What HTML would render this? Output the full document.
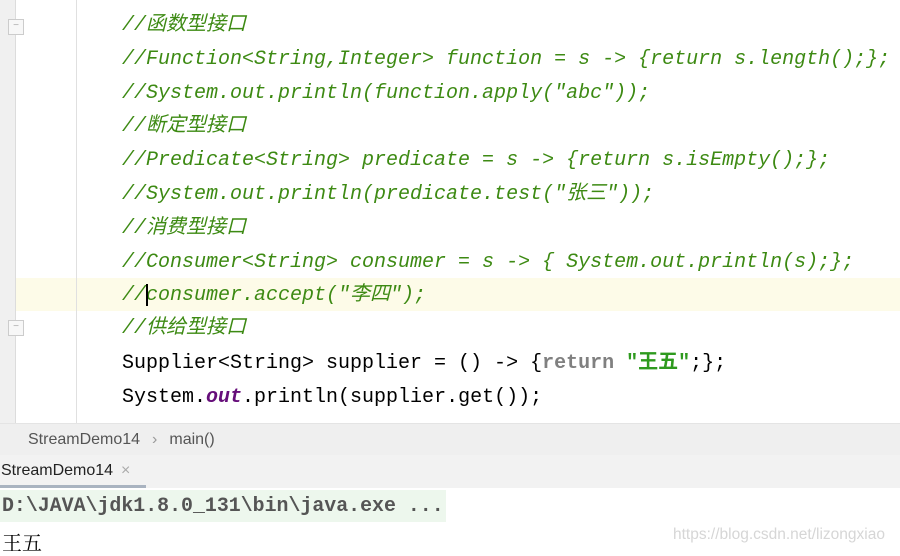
<!DOCTYPE html>
<html><head><meta charset="utf-8"><style>
*{margin:0;padding:0}
body{width:900px;height:555px;position:relative;overflow:hidden;background:#fff;font-family:"Liberation Mono","Noto Sans CJK SC",monospace}
.g1{position:absolute;left:0;top:0;width:15px;height:423px;background:#f0f0f0;border-right:1px solid #dcdcdc}
.g2{position:absolute;left:76px;top:0;width:1px;height:423px;background:#e0e0e0}
.hl{position:absolute;left:16px;top:278px;width:884px;height:33px;background:#fdfbe8}
.ln{position:absolute;left:122px;font-size:20px;line-height:34px;white-space:pre;color:#000}
.c{color:#3d8a13;font-style:italic}
.kw{color:#808080;font-weight:bold}
.s{color:#2e9a1e;font-weight:bold}
.o{color:#660e7a;font-style:italic;font-weight:bold}
.fold{position:absolute;left:8px;width:14px;height:14px;border:1px solid #ccc;background:#f7f7f7;font-size:10px;line-height:12px;text-align:center;color:#aaa;font-family:"Liberation Sans",sans-serif}
.bc{position:absolute;left:0;top:423px;width:900px;height:31px;background:#efefef;border-top:1px solid #e4e4e4;border-bottom:1px solid #d4d4d4;font-family:"Liberation Sans",sans-serif;font-size:16px;color:#555;line-height:31px}
.tb{position:absolute;left:0;top:455px;width:900px;height:33px;background:#f2f2f2;font-family:"Liberation Sans",sans-serif;font-size:16px;color:#222;line-height:31px}
.und{position:absolute;left:0;top:485px;width:146px;height:3px;background:#a9b3c0}
.out{position:absolute;left:0;top:490px;width:446px;height:32px;background:#edf7ed;font-size:19.9px;line-height:32px;color:#555;font-weight:bold;padding-left:2px;box-sizing:border-box}
.wu{position:absolute;left:2px;top:527px;font-family:"Noto Serif CJK SC",serif;font-size:20px;color:#000}
.wm{position:absolute;left:673px;top:526px;font-family:"Liberation Sans",sans-serif;font-size:15.5px;color:#d6d6d6}
</style></head><body>
<div class="g1"></div><div class="hl"></div><div class="g2"></div>
<div class="fold" style="top:19px">−</div>
<div class="fold" style="top:320px">−</div>
<div class="ln c" style="top:9px">//函数型接口</div>
<div class="ln c" style="top:43px">//Function&lt;String,Integer&gt; function = s -&gt; {return s.length();};</div>
<div class="ln c" style="top:77px">//System.out.println(function.apply("abc"));</div>
<div class="ln c" style="top:110px">//断定型接口</div>
<div class="ln c" style="top:144px">//Predicate&lt;String&gt; predicate = s -&gt; {return s.isEmpty();};</div>
<div class="ln c" style="top:178px">//System.out.println(predicate.test("张三"));</div>
<div class="ln c" style="top:212px">//消费型接口</div>
<div class="ln c" style="top:246px">//Consumer&lt;String&gt; consumer = s -&gt; { System.out.println(s);};</div>
<div class="ln c" style="top:279px">//consumer.accept("李四");</div>
<div style="position:absolute;left:146px;top:284px;width:2px;height:22px;background:#000"></div>
<div class="ln c" style="top:312px">//供给型接口</div>
<div class="ln" style="top:347px">Supplier&lt;String&gt; supplier = () -&gt; {<span class="kw">return</span> <span class="s">"王五"</span>;};</div>
<div class="ln" style="top:381px">System.<span class="o">out</span>.println(supplier.get());</div>
<div class="bc"><span style="margin-left:28px">StreamDemo14</span><span style="margin-left:12px;color:#999">›</span><span style="margin-left:12px">main()</span></div>
<div class="tb"><span style="margin-left:1px">StreamDemo14</span><span style="margin-left:8px;color:#aaa">×</span></div>
<div class="und"></div>
<div class="out">D:\JAVA\jdk1.8.0_131\bin\java.exe ...</div>
<div class="wu">王五</div>
<div class="wm">https://blog.csdn.net/lizongxiao</div>
</body></html>
